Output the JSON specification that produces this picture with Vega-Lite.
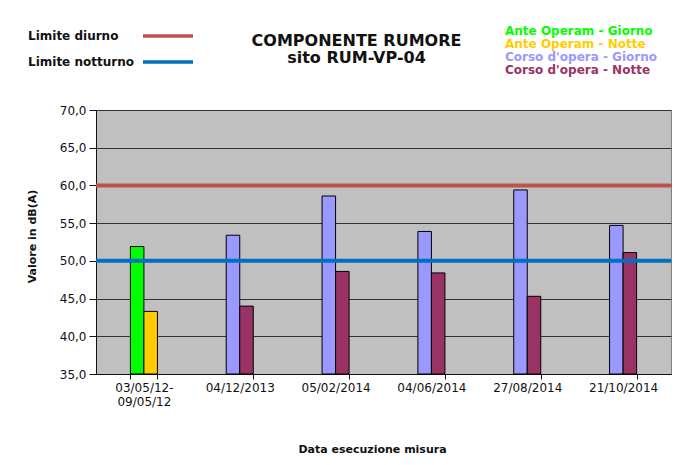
{
  "$schema": "https://vega.github.io/schema/vega-lite/v6.json",
  "autosize": {"type": "none"},
  "width": 575,
  "height": 264,
  "padding": {"left": 96, "top": 110, "right": 18, "bottom": 91},
  "background": "white",
  "config": {
    "font": "DejaVu Sans",
    "view": {"fill": "#C0C0C0", "stroke": "#808080", "strokeWidth": 1}
  },
  "title": {
    "text": ["COMPONENTE RUMORE", "sito RUM-VP-04"],
    "font": "DejaVu Sans",
    "fontSize": 16,
    "fontWeight": "bold",
    "color": "#111111",
    "anchor": "middle",
    "frame": "group",
    "offset": 0,
    "dy": 42,
    "dx": -27,
    "lineHeight": 17
  },
  "layer": [
    {
      "data": {
        "values": [
          {"data": "03/05/12-09/05/12", "serie": "Ante Operam - Giorno", "turno": "Giorno", "valore": 51.9},
          {"data": "03/05/12-09/05/12", "serie": "Ante Operam - Notte", "turno": "Notte", "valore": 43.3},
          {"data": "04/12/2013", "serie": "Corso d'opera - Giorno", "turno": "Giorno", "valore": 53.4},
          {"data": "04/12/2013", "serie": "Corso d'opera - Notte", "turno": "Notte", "valore": 44.0},
          {"data": "05/02/2014", "serie": "Corso d'opera - Giorno", "turno": "Giorno", "valore": 58.6},
          {"data": "05/02/2014", "serie": "Corso d'opera - Notte", "turno": "Notte", "valore": 48.6},
          {"data": "04/06/2014", "serie": "Corso d'opera - Giorno", "turno": "Giorno", "valore": 53.9},
          {"data": "04/06/2014", "serie": "Corso d'opera - Notte", "turno": "Notte", "valore": 48.4},
          {"data": "27/08/2014", "serie": "Corso d'opera - Giorno", "turno": "Giorno", "valore": 59.4},
          {"data": "27/08/2014", "serie": "Corso d'opera - Notte", "turno": "Notte", "valore": 45.3},
          {"data": "21/10/2014", "serie": "Corso d'opera - Giorno", "turno": "Giorno", "valore": 54.7},
          {"data": "21/10/2014", "serie": "Corso d'opera - Notte", "turno": "Notte", "valore": 51.1}
        ]
      },
      "mark": {"type": "bar", "stroke": "black", "strokeWidth": 1},
      "encoding": {
        "x": {
          "field": "data",
          "type": "nominal",
          "sort": ["03/05/12-09/05/12", "04/12/2013", "05/02/2014", "04/06/2014", "27/08/2014", "21/10/2014"],
          "scale": {"paddingInner": 0.718, "paddingOuter": 0.359},
          "axis": {
            "title": "Data esecuzione misura",
            "titleFont": "DejaVu Sans",
            "titleFontSize": 11,
            "titleFontWeight": "bold",
            "titleColor": "#111111",
            "titleX": 276,
            "titleY": 75,
            "titleBaseline": "middle",
            "labelAngle": 0,
            "labelFont": "DejaVu Sans",
            "labelFontSize": 12,
            "labelColor": "#111111",
            "labelPadding": 3,
            "labelLineHeight": 14,
            "labelOverlap": false,
            "labelExpr": "datum.value == '03/05/12-09/05/12' ? ['03/05/12-', '09/05/12'] : datum.value",
            "tickBand": "extent",
            "tickOffset": -34.4,
            "tickSize": 5,
            "tickColor": "#111111",
            "domainColor": "#111111",
            "grid": false
          }
        },
        "xOffset": {
          "field": "turno",
          "type": "nominal",
          "scale": {"domain": ["Giorno", "Notte"], "paddingInner": 0, "paddingOuter": 0}
        },
        "y": {
          "field": "valore",
          "type": "quantitative",
          "scale": {"domain": [35, 70], "zero": false, "nice": false},
          "axis": {
            "title": "Valore in dB(A)",
            "titleFont": "DejaVu Sans",
            "titleFontSize": 11,
            "titleFontWeight": "bold",
            "titleColor": "#111111",
            "titleX": -64,
            "titleY": 126,
            "titleAngle": -90,
            "titleAlign": "center",
            "titleBaseline": "middle",
            "values": [35, 40, 45, 50, 55, 60, 65, 70],
            "tickCount": 20,
            "labelExpr": "replace(format(datum.value, '.1f'), '.', ',')",
            "labelFont": "DejaVu Sans",
            "labelFontSize": 12,
            "labelColor": "#111111",
            "labelPadding": 3,
            "labelOverlap": false,
            "labelFlush": false,
            "tickSize": 7,
            "tickColor": "#111111",
            "domainColor": "#111111",
            "grid": true,
            "gridColor": "#333333",
            "gridWidth": 1
          }
        },
        "y2": {"datum": 35},
        "fill": {
          "field": "serie",
          "type": "nominal",
          "scale": {
            "domain": ["Ante Operam - Giorno", "Ante Operam - Notte", "Corso d'opera - Giorno", "Corso d'opera - Notte"],
            "range": ["#00FF00", "#FFCC00", "#9999FF", "#993366"]
          },
          "legend": {
            "orient": "none",
            "legendX": 397,
            "legendY": -85,
            "title": null,
            "padding": 0,
            "symbolSize": 0,
            "symbolOpacity": 0,
            "symbolStrokeWidth": 0,
            "labelOffset": 0,
            "labelFont": "DejaVu Sans",
            "labelFontSize": 12,
            "labelFontWeight": "bold",
            "labelColor": {"expr": "scale('fill', datum.value)"},
            "rowPadding": 1
          }
        }
      }
    },
    {
      "data": {
        "values": [
          {"limite": "Limite diurno", "valore": 60},
          {"limite": "Limite notturno", "valore": 50}
        ]
      },
      "mark": {"type": "rule", "strokeWidth": 4},
      "encoding": {
        "y": {"field": "valore", "type": "quantitative"},
        "stroke": {
          "field": "limite",
          "type": "nominal",
          "scale": {"domain": ["Limite diurno", "Limite notturno"], "range": ["#C0504D", "#0070C0"]},
          "legend": {
            "orient": "none",
            "legendX": 60,
            "legendY": -86,
            "title": null,
            "padding": 0,
            "symbolType": "M-2.5,0H2.5",
            "symbolSize": 400,
            "symbolStrokeWidth": 3.5,
            "labelOffset": -152,
            "labelFont": "DejaVu Sans",
            "labelFontSize": 12,
            "labelFontWeight": "bold",
            "labelColor": "#111111",
            "rowPadding": 7
          }
        }
      }
    }
  ]
}
